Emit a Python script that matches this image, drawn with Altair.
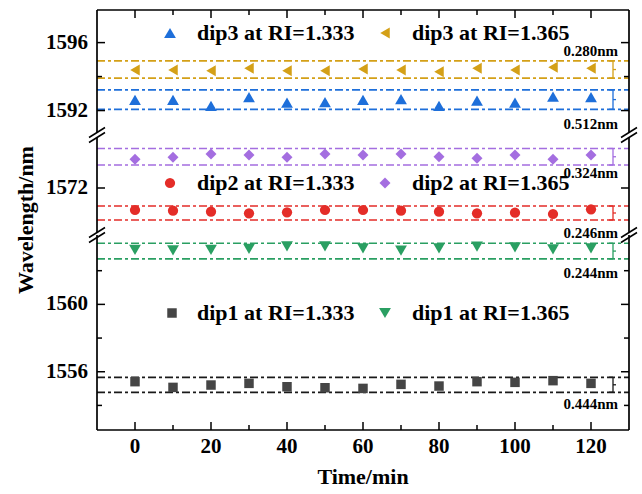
import altair as alt
import pandas as pd

# ---------------- data ----------------
time_min = [0, 10, 20, 30, 40, 50, 60, 70, 80, 90, 100, 110, 120]

dip3_ri1333 = [1592.63, 1592.63, 1592.28, 1592.79, 1592.47, 1592.49, 1592.63, 1592.67, 1592.28, 1592.59, 1592.47, 1592.82, 1592.79]
dip3_ri1365 = [1594.39, 1594.39, 1594.34, 1594.49, 1594.34, 1594.34, 1594.45, 1594.39, 1594.29, 1594.49, 1594.39, 1594.55, 1594.49]
dip2_ri1333 = [1571.56, 1571.546, 1571.526, 1571.494, 1571.514, 1571.56, 1571.56, 1571.546, 1571.526, 1571.494, 1571.506, 1571.48, 1571.574]
dip2_ri1365 = [1572.574, 1572.614, 1572.68, 1572.66, 1572.614, 1572.68, 1572.66, 1572.68, 1572.626, 1572.594, 1572.66, 1572.574, 1572.66]
dip1_ri1333 = [1555.41, 1555.07, 1555.21, 1555.31, 1555.11, 1555.05, 1555.01, 1555.25, 1555.15, 1555.41, 1555.37, 1555.47, 1555.31]
dip1_ri1365 = [1563.23, 1563.20, 1563.23, 1563.29, 1563.44, 1563.44, 1563.33, 1563.19, 1563.33, 1563.43, 1563.39, 1563.27, 1563.33]

# fluctuation range lines (lower, upper)
dip3_ri1333_band = [1592.07, 1593.22]
dip3_ri1365_band = [1593.91, 1594.92]
dip2_ri1333_band = [1571.36, 1571.64]
dip2_ri1365_band = [1572.46, 1572.79]
dip1_ri1333_band = [1554.78, 1555.67]
dip1_ri1365_band = [1562.70, 1563.63]

series_names = ["dip3 at RI=1.333", "dip3 at RI=1.365",
                "dip2 at RI=1.333", "dip2 at RI=1.365",
                "dip1 at RI=1.333", "dip1 at RI=1.365"]
spread_labels = ["0.280nm", "0.512nm", "0.324nm", "0.246nm", "0.244nm", "0.444nm"]
x_title = "Time/min"
y_title = "Wavelength/nm"

x_major = [0, 20, 40, 60, 80, 100, 120]
x_minor = [10, 30, 50, 70, 90, 110]
top_major, top_minor = [1592, 1596], [1594]
mid_major, mid_minor = [1572], []
bot_major, bot_minor = [1556, 1560], [1554, 1558, 1562]

top_domain = [1590.56, 1597.92]
mid_domain = [1571.06, 1573.06]
bot_domain = [1552.54, 1564.12]
x_domain = [-10, 130]

# ---------------- styling ----------------
FONT = "Liberation Serif"
W = 532
H_TOP, H_MID, H_BOT = 125, 100, 195
C_GOLD = "#D4A017"
C_BLUE = "#1E6FDA"
C_PURPLE = "#A46EE0"
C_RED = "#E42D28"
C_GREEN = "#2A9F62"
C_DARK = "#454545"
C_LINE_DARK = "#1a1a1a"
DASH = [8, 3, 3, 3]
one = pd.DataFrame({"k": [0]})
XS = alt.Scale(domain=x_domain, nice=False, zero=False)


def make_panel(H, ydom, pts, bands, major, minor, legend, notes,
               top=False, bottom=False, with_title=False, breaks=False):
    ysc = alt.Scale(domain=ydom, nice=False, zero=False)

    def Y(f):
        return alt.Y(f, scale=ysc, axis=None)

    def X(f):
        return alt.X(f, scale=XS, axis=None)

    layers = []
    # dash-dot range lines
    band_df = pd.DataFrame({
        "v": [b[0] for b in bands] + [b[1] for b in bands],
        "c": [b[2] for b in bands] * 2,
    })
    layers.append(
        alt.Chart(band_df).mark_rule(strokeDash=DASH, strokeWidth=1.7).encode(
            y=Y("v:Q"), x=alt.value(0), x2=alt.value(W),
            color=alt.Color("c:N", scale=None))
    )
    # braces at the right
    for lo, hi, col in bands:
        bdf = pd.DataFrame({"lo": [lo], "hi": [hi], "mid": [(lo + hi) / 2]})
        layers.append(alt.Chart(bdf).mark_rule(color=col, strokeWidth=1.3).encode(
            y=Y("lo:Q"), y2="hi:Q", x=alt.value(516)))
        for f in ["lo", "hi"]:
            layers.append(alt.Chart(bdf).mark_rule(color=col, strokeWidth=1.3).encode(
                y=Y(f + ":Q"), x=alt.value(512), x2=alt.value(516)))
        layers.append(alt.Chart(bdf).mark_rule(color=col, strokeWidth=1.3).encode(
            y=Y("mid:Q"), x=alt.value(516), x2=alt.value(519)))
    # data points
    for vals, shape, col, size in pts:
        df = pd.DataFrame({"t": time_min, "v": vals})
        layers.append(
            alt.Chart(df).mark_point(shape=shape, filled=True, size=size, color=col, opacity=1).encode(
                x=X("t:Q"), y=Y("v:Q"))
        )
    # inner ticks (left/right)
    for vals, ln in [(major, 8), (minor, 5)]:
        if not vals:
            continue
        tdf = pd.DataFrame({"v": vals})
        layers.append(alt.Chart(tdf).mark_rule(color="black", strokeWidth=1.5).encode(
            y=Y("v:Q"), x=alt.value(0), x2=alt.value(ln)))
        layers.append(alt.Chart(tdf).mark_rule(color="black", strokeWidth=1.5).encode(
            y=Y("v:Q"), x=alt.value(W - ln), x2=alt.value(W)))
    # y tick labels
    ldf = pd.DataFrame({"v": major, "lab": [str(m) for m in major]})
    layers.append(alt.Chart(ldf).mark_text(align="right", baseline="middle", font=FONT,
                                           fontWeight="bold", fontSize=21, color="black").encode(
        y=Y("v:Q"), x=alt.value(-9), text="lab:N"))
    # inner ticks (top/bottom)
    if top or bottom:
        for vals, ln in [(x_major, 8), (x_minor, 5)]:
            tdf = pd.DataFrame({"t": vals})
            if top:
                ye, y2e = alt.value(0), alt.value(ln)
            else:
                ye, y2e = alt.value(H), alt.value(H - ln)
            layers.append(alt.Chart(tdf).mark_rule(color="black", strokeWidth=1.5).encode(
                x=X("t:Q"), y=ye, y2=y2e))
    if bottom:
        xdf = pd.DataFrame({"t": x_major, "lab": [str(m) for m in x_major]})
        layers.append(alt.Chart(xdf).mark_text(align="center", baseline="middle", font=FONT,
                                               fontWeight="bold", fontSize=21, color="black").encode(
            x=X("t:Q"), y=alt.value(H + 17), text="lab:N"))
        tdf = pd.DataFrame({"lab": [x_title]})
        layers.append(alt.Chart(tdf).mark_text(align="center", baseline="middle", font=FONT,
                                               fontWeight="bold", fontSize=22, color="black").encode(
            x=alt.value(W / 2), y=alt.value(H + 47), text="lab:N"))
    if with_title:
        tdf = pd.DataFrame({"lab": [y_title]})
        layers.append(alt.Chart(tdf).mark_text(align="center", baseline="middle", font=FONT,
                                               fontWeight="bold", fontSize=22, color="black",
                                               angle=270).encode(
            x=alt.value(-71), y=alt.value(85), text="lab:N"))
    # frame
    for xv in [0, W]:
        layers.append(alt.Chart(one).mark_rule(color="black", strokeWidth=1.7).encode(
            x=alt.value(xv), y=alt.value(0), y2=alt.value(H)))
    if top:
        layers.append(alt.Chart(one).mark_rule(color="black", strokeWidth=1.7).encode(
            y=alt.value(0), x=alt.value(0), x2=alt.value(W)))
    if bottom:
        layers.append(alt.Chart(one).mark_rule(color="black", strokeWidth=1.7).encode(
            y=alt.value(H), x=alt.value(0), x2=alt.value(W)))
    # in-plot legend
    for label, shape, col, size, xm, xt, yl in legend:
        ldf = pd.DataFrame({"label": [label]})
        layers.append(alt.Chart(ldf).mark_point(shape=shape, filled=True, size=size, color=col, opacity=1).encode(
            x=alt.value(xm), y=alt.value(yl)))
        layers.append(alt.Chart(ldf).mark_text(align="left", baseline="middle", font=FONT,
                                               fontWeight="bold", fontSize=22, color="black").encode(
            x=alt.value(xt), y=alt.value(yl), text="label:N"))
    # spread annotations
    for label, yn in notes:
        ndf = pd.DataFrame({"label": [label]})
        layers.append(alt.Chart(ndf).mark_text(align="right", baseline="middle", font=FONT,
                                               fontWeight="bold", fontSize=15, color="black").encode(
            x=alt.value(521), y=alt.value(yn), text="label:N"))
    # axis break marks
    if breaks:
        for b in [0, H]:
            for a in [0, W]:
                layers.append(alt.Chart(one).mark_rule(color="white", strokeWidth=4).encode(
                    x=alt.value(a), y=alt.value(b - 2.5), y2=alt.value(b + 2.5)))
                for off in [-2.5, 2.5]:
                    layers.append(alt.Chart(one).mark_rule(color="black", strokeWidth=1.5).encode(
                        x=alt.value(a - 8), x2=alt.value(a + 8),
                        y=alt.value(b + off + 5), y2=alt.value(b + off - 5)))
    return alt.layer(*layers).properties(width=W, height=H)


top_panel = make_panel(
    H_TOP, top_domain,
    [(dip3_ri1333, "triangle-up", C_BLUE, 140), (dip3_ri1365, "triangle-left", C_GOLD, 120)],
    [(dip3_ri1333_band[0], dip3_ri1333_band[1], C_BLUE), (dip3_ri1365_band[0], dip3_ri1365_band[1], C_GOLD)],
    top_major, top_minor,
    [(series_names[0], "triangle-up", C_BLUE, 140, 73, 100, 23),
     (series_names[1], "triangle-left", C_GOLD, 120, 288, 315, 23)],
    [(spread_labels[0], 41), (spread_labels[1], 114)],
    top=True)

mid_panel = make_panel(
    H_MID, mid_domain,
    [(dip2_ri1333, "circle", C_RED, 105), (dip2_ri1365, "diamond", C_PURPLE, 120)],
    [(dip2_ri1333_band[0], dip2_ri1333_band[1], C_RED), (dip2_ri1365_band[0], dip2_ri1365_band[1], C_PURPLE)],
    mid_major, mid_minor,
    [(series_names[2], "circle", C_RED, 105, 73, 100, 48),
     (series_names[3], "diamond", C_PURPLE, 120, 288, 315, 48)],
    [(spread_labels[2], 38), (spread_labels[3], 98)],
    with_title=True, breaks=True)

bot_panel = make_panel(
    H_BOT, bot_domain,
    [(dip1_ri1333, "square", C_DARK, 90), (dip1_ri1365, "triangle-down", C_GREEN, 140)],
    [(dip1_ri1333_band[0], dip1_ri1333_band[1], C_LINE_DARK), (dip1_ri1365_band[0], dip1_ri1365_band[1], C_GREEN)],
    bot_major, bot_minor,
    [(series_names[4], "square", C_DARK, 90, 75, 100, 78),
     (series_names[5], "triangle-down", C_GREEN, 140, 288, 315, 78)],
    [(spread_labels[4], 38), (spread_labels[5], 169)],
    bottom=True)

chart = alt.vconcat(top_panel, mid_panel, bot_panel, spacing=0, bounds="flush").properties(
    padding={"left": 15, "top": 9, "right": 3, "bottom": 4},
    background="white",
).configure_view(stroke=None)

chart.save("out.html", embed_options={"renderer": "svg", "actions": False})
